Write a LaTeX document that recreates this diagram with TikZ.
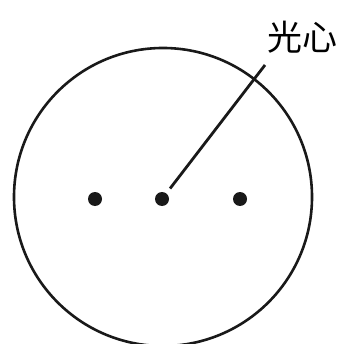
\documentclass[tikz,border=0pt]{standalone}
\usepackage{fontspec}
\newfontfamily\cjk{Noto Sans CJK SC}
\usetikzlibrary{positioning}

\begin{document}
\begin{tikzpicture}[x=1pt,y=-1pt,
  dot/.style={circle,fill=black!90,inner sep=0pt,minimum size=14pt},
  lbl/.style={font=\cjk\fontsize{35}{40}\selectfont,inner sep=0pt}]
  \useasboundingbox (0,0) rectangle (342,344);
  % lens outline
  \draw[line width=2.6pt,black!90] (163,197) circle (149);
  % three points on the axis
  \node[dot] (left) at (95,199) {};
  \node[dot] (mid) at (162,199) {};
  \node[dot] (right) at (240,199) {};
  % label with leader line
  \node[lbl] (name) at (302,37) {光心};
  \coordinate (tip) at (265,65);
  \draw[line width=2.8pt,black!90,shorten <=6pt] (mid) -- (tip);
\end{tikzpicture}
\end{document}
